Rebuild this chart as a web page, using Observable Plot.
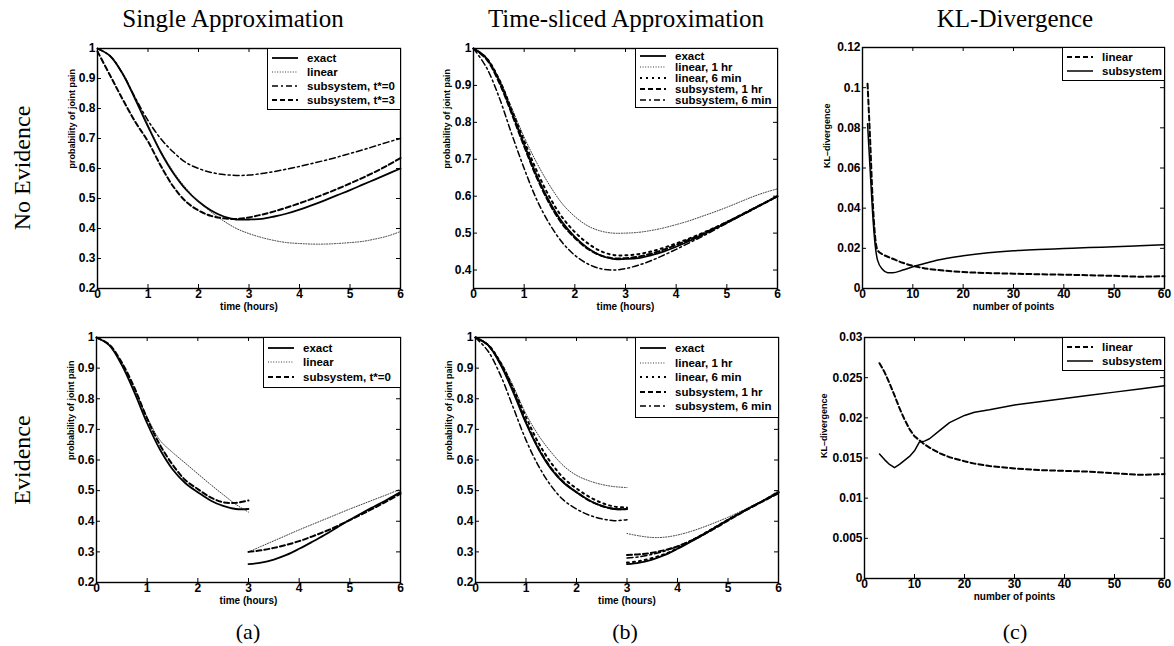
<!DOCTYPE html>
<html><head><meta charset="utf-8">
<script src="https://cdn.jsdelivr.net/npm/d3@7"></script>
<script src="https://cdn.jsdelivr.net/npm/@observablehq/plot@0.6"></script>
<style>
body{margin:0;background:#fff;}
#fig{position:relative;width:1174px;height:646px;overflow:hidden;background:#fff;}
.ttl{position:absolute;font-family:"Liberation Serif",serif;font-size:25px;line-height:30px;color:#000;white-space:nowrap;transform:translateX(-50%);}
.row{position:absolute;font-family:"Liberation Serif",serif;font-size:24px;line-height:28px;white-space:nowrap;transform:translate(-50%,-50%) rotate(-90deg);}
.sub{position:absolute;font-family:"Liberation Serif",serif;font-size:22px;line-height:26px;white-space:nowrap;transform:translate(-50%,-50%);}
.leg{position:absolute;background:#fff;border:1.3px solid #000;box-sizing:border-box;font-family:"Liberation Sans",Arial,sans-serif;font-weight:bold;font-size:11.5px;color:#000;}
.leg .r{display:flex;align-items:center;white-space:nowrap;}
.leg svg{margin-right:8px;flex:none;}
.pl{position:absolute;}
</style>
</head><body>
<div id="fig"></div>
<script>
// ---------- data ----------
const hours = [0,0.25,0.5,0.75,1,1.25,1.5,1.75,2,2.25,2.5,2.75,3,3.25,3.5,3.75,4,4.25,4.5,4.75,5,5.25,5.5,5.75,6];
const hoursBefore = [0,0.25,0.5,0.75,1,1.25,1.5,1.75,2,2.25,2.5,2.75,3];
const hoursAfter = [3,3.25,3.5,3.75,4,4.25,4.5,4.75,5,5.25,5.5,5.75,6];

// No evidence, single approximation
const exactNE  = [1.0,0.975,0.915,0.83,0.74,0.655,0.585,0.53,0.49,0.46,0.44,0.43,0.43,0.432,0.44,0.45,0.463,0.478,0.494,0.511,0.528,0.546,0.564,0.582,0.60];
const linearNE = [1.0,0.975,0.918,0.835,0.745,0.66,0.59,0.535,0.49,0.455,0.425,0.40,0.383,0.37,0.36,0.353,0.35,0.348,0.348,0.35,0.353,0.357,0.365,0.375,0.39];
const subT0NE  = [1.0,0.975,0.915,0.835,0.76,0.70,0.655,0.62,0.60,0.587,0.58,0.577,0.578,0.583,0.59,0.598,0.607,0.617,0.627,0.638,0.65,0.662,0.675,0.688,0.70];
const subT3NE  = [0.99,0.91,0.83,0.755,0.69,0.61,0.54,0.49,0.46,0.442,0.434,0.432,0.437,0.446,0.457,0.47,0.484,0.499,0.515,0.532,0.55,0.569,0.589,0.611,0.635];
// No evidence, time-sliced
const lin1hrNE  = [1.0,0.975,0.92,0.84,0.76,0.69,0.63,0.58,0.545,0.52,0.506,0.50,0.50,0.502,0.507,0.514,0.523,0.533,0.545,0.557,0.57,0.584,0.598,0.61,0.62];
const lin6minNE = [1.0,0.975,0.918,0.835,0.75,0.668,0.598,0.543,0.503,0.473,0.452,0.441,0.44,0.443,0.45,0.46,0.472,0.485,0.499,0.514,0.53,0.547,0.564,0.582,0.60];
const sub1hrNE  = [1.0,0.972,0.91,0.825,0.735,0.65,0.58,0.525,0.487,0.458,0.44,0.432,0.432,0.436,0.444,0.455,0.468,0.482,0.497,0.513,0.53,0.547,0.565,0.582,0.60];
const sub6minNE = [1.0,0.95,0.87,0.77,0.675,0.59,0.525,0.475,0.44,0.417,0.404,0.40,0.404,0.413,0.425,0.44,0.456,0.473,0.49,0.508,0.527,0.545,0.563,0.582,0.60];
// Evidence, single approximation (before / after t=3)
const exactE1  = [1.0,0.975,0.91,0.82,0.72,0.635,0.57,0.525,0.495,0.468,0.45,0.44,0.44];
const exactE2  = [0.26,0.265,0.275,0.29,0.31,0.332,0.355,0.38,0.405,0.428,0.45,0.472,0.495];
const linearE1 = [1.0,0.975,0.915,0.83,0.74,0.665,0.625,0.59,0.555,0.52,0.487,0.455,0.43];
const linearE2 = [0.30,0.318,0.336,0.354,0.372,0.389,0.406,0.423,0.44,0.456,0.472,0.488,0.505];
const subE1    = [1.0,0.977,0.918,0.835,0.735,0.65,0.585,0.535,0.505,0.478,0.462,0.46,0.468];
const subE2    = [0.30,0.305,0.313,0.323,0.335,0.35,0.366,0.384,0.404,0.424,0.445,0.467,0.49];
// Evidence, time-sliced
const lin1hrE1  = [1.0,0.975,0.92,0.84,0.75,0.68,0.625,0.58,0.55,0.532,0.52,0.513,0.51];
const lin1hrE2  = [0.36,0.352,0.347,0.348,0.355,0.366,0.38,0.396,0.413,0.432,0.452,0.474,0.50];
const lin6minE1 = [1.0,0.976,0.917,0.833,0.74,0.655,0.59,0.54,0.507,0.48,0.46,0.448,0.445];
const lin6minE2 = [0.265,0.27,0.28,0.293,0.312,0.334,0.357,0.381,0.405,0.428,0.45,0.472,0.495];
const sub1hrE1  = [1.0,0.975,0.913,0.826,0.725,0.638,0.573,0.527,0.495,0.468,0.45,0.44,0.44];
const sub1hrE2  = [0.29,0.292,0.297,0.306,0.318,0.335,0.355,0.378,0.402,0.426,0.449,0.47,0.492];
const sub6minE1 = [1.0,0.955,0.875,0.77,0.665,0.58,0.515,0.468,0.44,0.42,0.408,0.402,0.405];
const sub6minE2 = [0.28,0.284,0.292,0.303,0.318,0.336,0.357,0.38,0.404,0.427,0.45,0.471,0.492];
// KL divergence
const pointsNE = [1,1.5,2,2.5,3,4,5,6,8,10,12,15,20,25,30,35,40,45,50,55,60];
const klLinearNE = [0.102,0.075,0.045,0.026,0.019,0.017,0.0158,0.0148,0.0128,0.0113,0.0102,0.0092,0.0082,0.0077,0.0074,0.0071,0.0069,0.0066,0.0063,0.0059,0.0061];
const klSubNE    = [0.082,0.06,0.038,0.022,0.014,0.0095,0.0079,0.0078,0.0092,0.0108,0.0122,0.0142,0.0163,0.0178,0.0188,0.0194,0.0199,0.0204,0.0208,0.0213,0.0218];
const pointsE = [3,4,5,6,7,8,9,10,11,12,13,15,17,20,22,25,30,35,40,45,50,55,60];
const klLinearE = [0.0268,0.0257,0.0243,0.0228,0.0212,0.0198,0.0186,0.0177,0.0172,0.0167,0.0163,0.0156,0.0151,0.0146,0.0143,0.014,0.0137,0.0135,0.0134,0.0133,0.0131,0.0129,0.013];
const klSubE    = [0.0155,0.0148,0.0142,0.0138,0.0142,0.0147,0.0152,0.0159,0.017,0.0171,0.0174,0.0184,0.0194,0.0203,0.0207,0.021,0.0216,0.022,0.0224,0.0228,0.0232,0.0236,0.024];

// tick values
const timeTicks = [0,1,2,3,4,5,6];
const probTicks = [0.2,0.3,0.4,0.5,0.6,0.7,0.8,0.9,1];
const probTicksB = [0.4,0.5,0.6,0.7,0.8,0.9,1];
const pointTicks = [0,10,20,30,40,50,60];
const klTicksNE = [0,0.02,0.04,0.06,0.08,0.1,0.12];
const klTicksE = [0,0.005,0.01,0.015,0.02,0.025,0.03];

// text
const colTitles = ["Single Approximation","Time-sliced Approximation","KL-Divergence"];
const rowTitles = ["No Evidence","Evidence"];
const subLabels = ["(a)","(b)","(c)"];

// ---------- styles ----------
const STY = {
  exact:   {stroke:"#000", strokeWidth:1.8},
  linear:  {stroke:"#222", strokeWidth:0.9, strokeDasharray:"1,1.6"},
  dots:    {stroke:"#000", strokeWidth:2, strokeDasharray:"2,4"},
  dashed:  {stroke:"#000", strokeWidth:2, strokeDasharray:"5,3"},
  dashdot: {stroke:"#000", strokeWidth:1.5, strokeDasharray:"6,3,2,3"},
  solid:   {stroke:"#000", strokeWidth:1.5}
};

const fig = document.getElementById("fig");
const M = {l:48, r:3, t:6, b:30};

function panel(cfg){
  const {fx, fy, fw, fh, xDomain, yDomain, xTicks, yTicks, xLabel, yLabel, yLabelDx, series, curve} = cfg;
  const marks = [];
  for (const s of series){
    for (const seg of s.segs){
      marks.push(Plot.line(seg.y, {x:(d,i)=>seg.x[i], y:d=>d, curve, ...STY[s.style]}));
    }
  }
  // inward ticks on all four sides
  marks.push(Plot.ruleX(xTicks, {x:d=>d, insetTop:fh-4, stroke:"#000", strokeWidth:1}));
  marks.push(Plot.ruleX(xTicks, {x:d=>d, insetBottom:fh-4, stroke:"#000", strokeWidth:1}));
  marks.push(Plot.ruleY(yTicks, {y:d=>d, insetRight:fw-4, stroke:"#000", strokeWidth:1}));
  marks.push(Plot.ruleY(yTicks, {y:d=>d, insetLeft:fw-4, stroke:"#000", strokeWidth:1}));
  marks.push(Plot.axisX(xTicks, {tickSize:0, tickPadding:1, tickFormat:d=>String(d), label:null, fontSize:12}));
  marks.push(Plot.axisY(yTicks, {tickSize:0, tickPadding:2, tickFormat:d=>String(d), label:null, fontSize:12}));
  marks.push(Plot.text([xLabel], {text:d=>d, frameAnchor:"bottom", dy:21, fontSize:10, fontWeight:"bold"}));
  marks.push(Plot.text([yLabel], {text:d=>d, frameAnchor:"left", dx:yLabelDx, rotate:-90, fontSize:9, fontWeight:"bold"}));
  marks.push(Plot.frame({stroke:"#000", strokeWidth:1.4}));
  const svg = Plot.plot({
    width: fw+M.l+M.r, height: fh+M.t+M.b,
    marginLeft:M.l, marginRight:M.r, marginTop:M.t, marginBottom:M.b,
    x:{domain:xDomain}, y:{domain:yDomain},
    style:{fontFamily:"Liberation Sans, Arial, sans-serif", fontWeight:"bold", background:"transparent", color:"#000", overflow:"visible"},
    marks
  });
  svg.classList.add("pl");
  svg.style.left = (fx - M.l) + "px";
  svg.style.top = (fy - M.t) + "px";
  fig.appendChild(svg);
  // legend
  const L = cfg.legend;
  const box = document.createElement("div");
  box.className = "leg";
  box.style.left = L.left + "px";
  box.style.top = fy + "px";
  box.style.width = (fx + fw - L.left + 0.7) + "px";
  box.style.padding = L.pad + "px 4px " + L.pad + "px 3px";
  for (const s of series){
    const r = document.createElement("div");
    r.className = "r";
    r.style.height = L.rowH + "px";
    const st = STY[s.style];
    r.innerHTML = `<svg width="28" height="8"><line x1="1" x2="27" y1="4" y2="4" stroke="${st.stroke}" stroke-width="${st.strokeWidth}" ${st.strokeDasharray ? `stroke-dasharray="${st.strokeDasharray}"` : ""}/></svg><span></span>`;
    r.querySelector("span").textContent = s.name;
    box.appendChild(r);
  }
  fig.appendChild(box);
}

const probLabel = "probability of joint pain";
const timeLabel = "time (hours)";

// (a) top
panel({fx:97, fy:48, fw:303, fh:240, xDomain:[0,6], yDomain:[0.2,1], xTicks:timeTicks, yTicks:probTicks,
  xLabel:timeLabel, yLabel:probLabel, yLabelDx:-25, curve:"catmull-rom",
  legend:{left:267, rowH:14, pad:2},
  series:[
    {name:"exact", style:"exact", segs:[{x:hours, y:exactNE}]},
    {name:"linear", style:"linear", segs:[{x:hours, y:linearNE}]},
    {name:"subsystem, t*=0", style:"dashdot", segs:[{x:hours, y:subT0NE}]},
    {name:"subsystem, t*=3", style:"dashed", segs:[{x:hours, y:subT3NE}]}
  ]});
// (b) top
panel({fx:473, fy:48, fw:304, fh:240, xDomain:[0,6], yDomain:[0.35,1], xTicks:timeTicks, yTicks:probTicksB,
  xLabel:timeLabel, yLabel:probLabel, yLabelDx:-26, curve:"catmull-rom",
  legend:{left:635, rowH:11.2, pad:1},
  series:[
    {name:"exact", style:"exact", segs:[{x:hours, y:exactNE}]},
    {name:"linear, 1 hr", style:"linear", segs:[{x:hours, y:lin1hrNE}]},
    {name:"linear, 6 min", style:"dots", segs:[{x:hours, y:lin6minNE}]},
    {name:"subsystem, 1 hr", style:"dashed", segs:[{x:hours, y:sub1hrNE}]},
    {name:"subsystem, 6 min", style:"dashdot", segs:[{x:hours, y:sub6minNE}]}
  ]});
// (c) top
panel({fx:862, fy:47, fw:302, fh:241, xDomain:[0,60], yDomain:[0,0.12], xTicks:pointTicks, yTicks:klTicksNE,
  xLabel:"number of points", yLabel:"KL\u2013divergence", yLabelDx:-35, curve:"monotone-x",
  legend:{left:1062, rowH:14, pad:2},
  series:[
    {name:"linear", style:"dashed", segs:[{x:pointsNE, y:klLinearNE}]},
    {name:"subsystem", style:"solid", segs:[{x:pointsNE, y:klSubNE}]}
  ]});
// (a) bottom
panel({fx:96, fy:337, fw:304, fh:245, xDomain:[0,6], yDomain:[0.2,1], xTicks:timeTicks, yTicks:probTicks,
  xLabel:timeLabel, yLabel:probLabel, yLabelDx:-25, curve:"catmull-rom",
  legend:{left:263, rowH:14.3, pad:3},
  series:[
    {name:"exact", style:"exact", segs:[{x:hoursBefore, y:exactE1},{x:hoursAfter, y:exactE2}]},
    {name:"linear", style:"linear", segs:[{x:hoursBefore, y:linearE1},{x:hoursAfter, y:linearE2}]},
    {name:"subsystem, t*=0", style:"dashed", segs:[{x:hoursBefore, y:subE1},{x:hoursAfter, y:subE2}]}
  ]});
// (b) bottom
panel({fx:475, fy:337, fw:303, fh:245, xDomain:[0,6], yDomain:[0.2,1], xTicks:timeTicks, yTicks:probTicks,
  xLabel:timeLabel, yLabel:probLabel, yLabelDx:-26, curve:"catmull-rom",
  legend:{left:635, rowH:14.5, pad:3},
  series:[
    {name:"exact", style:"exact", segs:[{x:hoursBefore, y:exactE1},{x:hoursAfter, y:exactE2}]},
    {name:"linear, 1 hr", style:"linear", segs:[{x:hoursBefore, y:lin1hrE1},{x:hoursAfter, y:lin1hrE2}]},
    {name:"linear, 6 min", style:"dots", segs:[{x:hoursBefore, y:lin6minE1},{x:hoursAfter, y:lin6minE2}]},
    {name:"subsystem, 1 hr", style:"dashed", segs:[{x:hoursBefore, y:sub1hrE1},{x:hoursAfter, y:sub1hrE2}]},
    {name:"subsystem, 6 min", style:"dashdot", segs:[{x:hoursBefore, y:sub6minE1},{x:hoursAfter, y:sub6minE2}]}
  ]});
// (c) bottom
panel({fx:864, fy:337, fw:300, fh:241, xDomain:[0,60], yDomain:[0,0.03], xTicks:pointTicks, yTicks:klTicksE,
  xLabel:"number of points", yLabel:"KL\u2013divergence", yLabelDx:-40, curve:"linear",
  legend:{left:1062, rowH:14, pad:2},
  series:[
    {name:"linear", style:"dashed", segs:[{x:pointsE, y:klLinearE}]},
    {name:"subsystem", style:"solid", segs:[{x:pointsE, y:klSubE}]}
  ]});

// ---------- titles ----------
const colX = [233, 626, 1015];
const subX = [248, 625, 1015];
colTitles.forEach((t,i)=>{
  const d = document.createElement("div"); d.className="ttl"; d.textContent=t;
  d.style.left = colX[i]+"px"; d.style.top = "4px"; fig.appendChild(d);
});
const rowY = [168, 460];
rowTitles.forEach((t,i)=>{
  const d = document.createElement("div"); d.className="row"; d.textContent=t;
  d.style.left = "22px"; d.style.top = rowY[i]+"px"; fig.appendChild(d);
});
subLabels.forEach((t,i)=>{
  const d = document.createElement("div"); d.className="sub"; d.textContent=t;
  d.style.left = subX[i]+"px"; d.style.top = "632px"; fig.appendChild(d);
});
</script>
</body></html>
